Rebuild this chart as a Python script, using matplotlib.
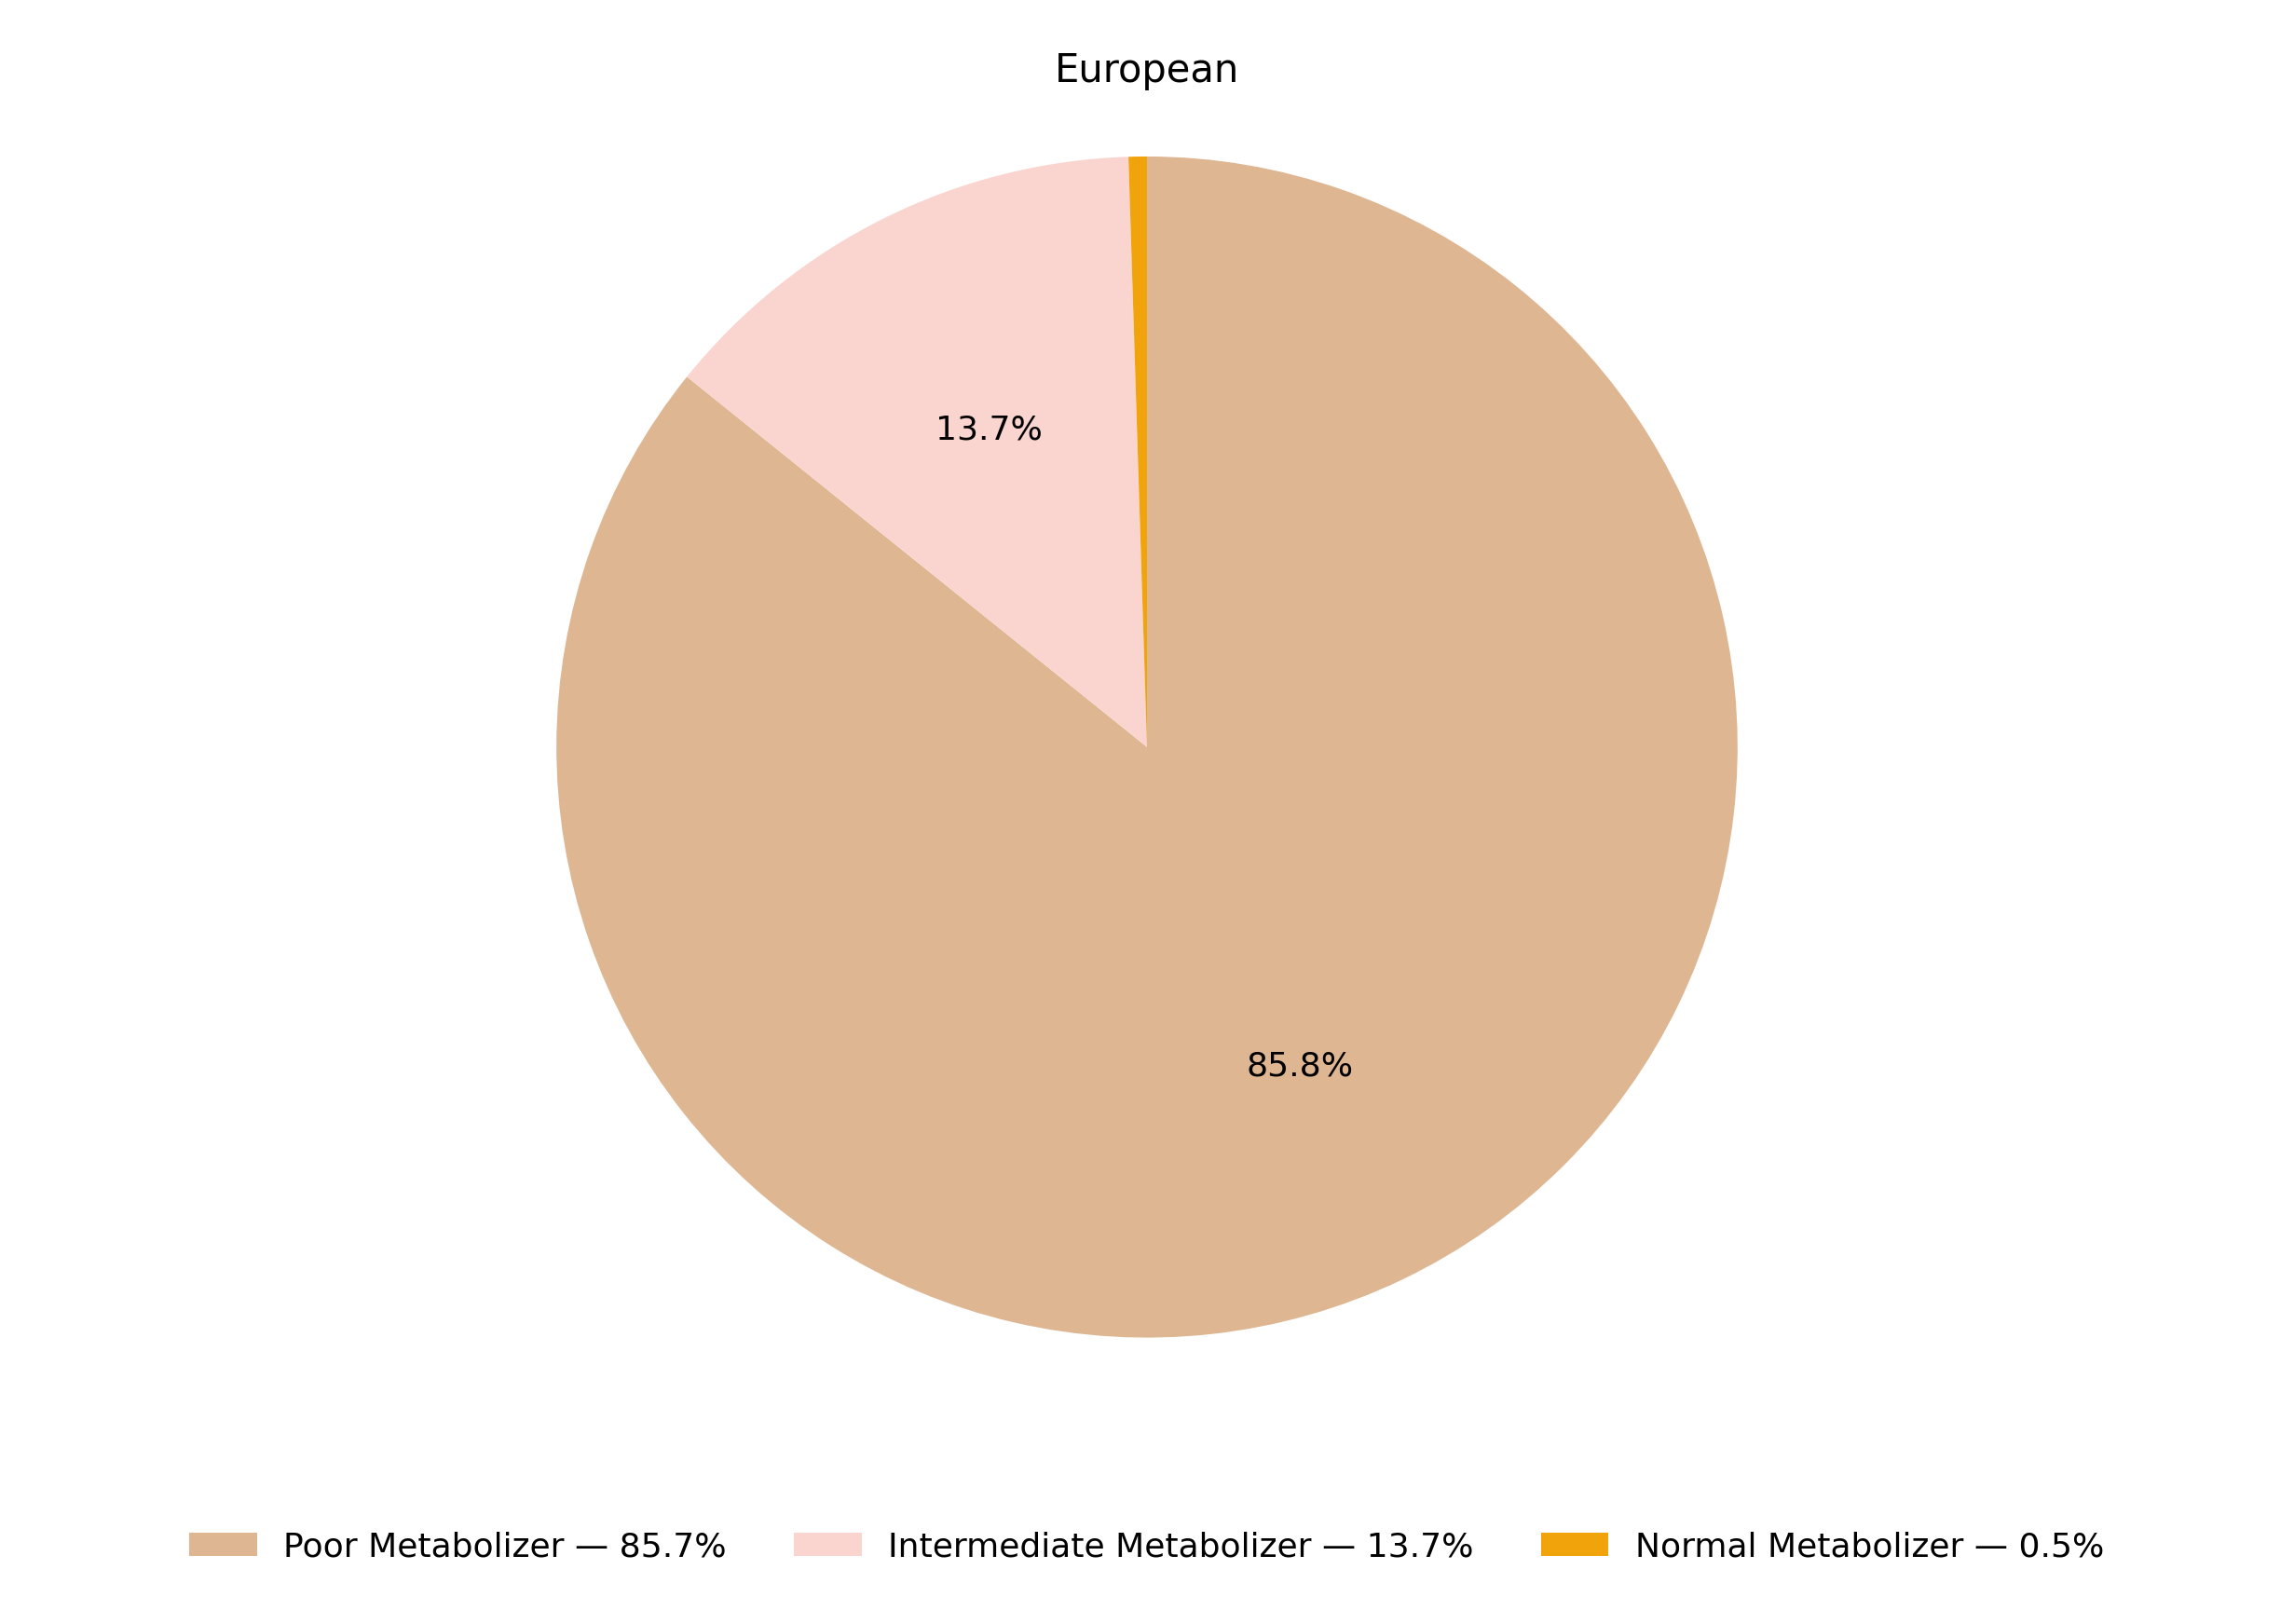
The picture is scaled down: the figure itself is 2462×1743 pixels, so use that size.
import matplotlib.pyplot as plt

labels = ['Poor Metabolizer', 'Intermediate Metabolizer', 'Normal Metabolizer']
values = [85.7, 13.7, 0.5]
colors = ['#DEB792', '#FAD5CF', '#F0A30A']

fig, ax = plt.subplots(figsize=(12.31, 8.715), dpi=200)
wedges, texts, autotexts = ax.pie(
    values, colors=colors, startangle=90, counterclock=False,
    autopct=lambda p: f'{p:.1f}%' if p >= 1 else '',
    textprops={'fontsize': 13})
ax.set_title('European', fontsize=15)
ax.axis('equal')
ax.legend(wedges, [f'{l} — {v}%' for l, v in zip(labels, values)],
          loc='upper center', bbox_to_anchor=(0.5, -0.08), ncol=3,
          frameon=False, fontsize=13)
plt.subplots_adjust(left=0.02, right=0.98, top=0.94, bottom=0.14)
plt.savefig('out.png')
